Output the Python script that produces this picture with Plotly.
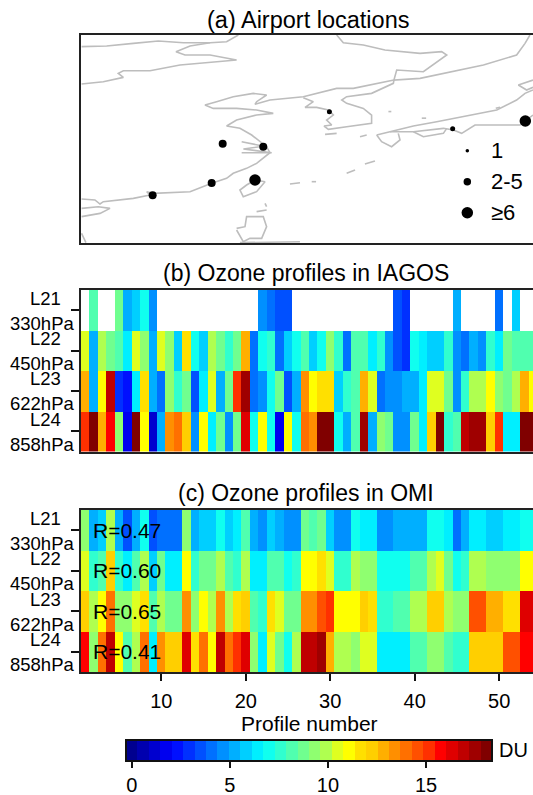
import plotly.graph_objects as go
from plotly.subplots import make_subplots

FONT = "Liberation Sans"
W, H = 533, 795

# jet palette of the colour bar, 32 levels
JET_32 = [
    "#00008F", "#0000AF", "#0000CF", "#0000EF", "#0010FF", "#0030FF", "#0050FF", "#0070FF",
    "#0090FF", "#00AFFF", "#00CFFF", "#00EFFF", "#10FFEF", "#30FFCF", "#50FFAF", "#70FF8F",
    "#8FFF70", "#AFFF50", "#DFFF20", "#FFFF00", "#FFE000", "#FFCF00", "#FFAF00", "#FF8F00",
    "#FF7000", "#FF5000", "#FF3000", "#FF0000", "#DF0000", "#BF0000", "#9F0000", "#800000",
]
DU_MIN, DU_MAX = -0.29, 18.36
DU_TICKS = [0, 5, 10, 15]

# row labels
LAYERS = ["L21", "L22", "L23", "L24"]
PRESSURES = ["330hPa", "450hPa", "622hPa", "858hPa"]
PROFILE_NO = list(range(1, 55))
PROFILE_TICKS = [10, 20, 30, 40, 50]
R_VALUES = ["R=0.47", "R=0.60", "R=0.65", "R=0.41"]

# (b) IAGOS, DU per profile
IAGOS_L21 = [None, 8.2, None, None, 8.7, 5.2, 5.8, 7.0, 4.7, None,
             None, None, None, None, None, None, None, None, None, None,
             None, 4.7, 4.1, 3.5, 3.5, None, None, None, None, None,
             None, None, None, None, None, None, None, 3.5, 2.9, None,
             None, None, None, None, 5.2, None, None, None, None, 4.1,
             None, 5.8, None, None]
IAGOS_L22 = [10.5, 5.2, 9.9, 8.7, 8.2, 6.4, 10.5, 9.3, 5.2, 10.5,
             9.3, 5.8, 11.7, 7.0, 5.8, 9.9, 8.7, 7.6, 8.7, 12.8,
             4.1, 7.0, 7.6, 4.1, 5.8, 7.0, 8.2, 5.8, 7.0, 9.3,
             7.6, 4.1, 8.2, 8.2, 6.4, 7.6, 4.7, 3.5, 2.9, 7.0,
             6.4, 5.8, 5.8, 7.6, 4.7, 4.1, 5.2, 4.7, 7.6, 6.4,
             8.7, 8.2, 8.2, 8.2]
IAGOS_L23 = [12.8, 5.2, 11.1, 16.9, 2.9, 2.3, 6.4, 11.7, 5.2, 4.1,
             9.3, 7.6, 8.7, 3.5, 6.4, 10.5, 5.2, 8.7, 15.2, 17.5,
             4.1, 4.7, 7.0, 8.7, 3.5, 5.2, 13.4, 11.1, 11.7, 11.7,
             5.8, 7.6, 8.2, 12.8, 10.5, 4.1, 4.7, 4.7, 5.2, 5.2,
             6.4, 10.5, 10.5, 8.7, 4.7, 7.6, 9.9, 9.9, 11.1, 9.3,
             8.7, 9.9, 12.8, 11.1]
IAGOS_L24 = [15.2, 18.1, 12.8, 15.7, 9.3, 1.7, 18.1, 11.1, 1.2, 5.2,
             13.4, 14.0, 12.2, 4.7, 11.1, 6.4, 8.7, 4.7, 8.7, 16.3,
             7.0, 11.1, 7.0, 1.7, 11.1, 7.0, 14.0, 13.4, 18.1, 18.1,
             7.0, 5.2, 8.2, 17.5, 5.2, 9.3, 8.7, 4.7, 4.7, 8.7,
             6.4, 12.2, 18.1, 7.6, 8.2, 16.9, 17.5, 17.5, 12.2, 15.2,
             6.4, 6.4, 18.1, 18.1]

# (c) OMI, DU per profile
OMI_L21 = [9.3, 5.2, 5.8, 9.9, 5.2, 3.5, 5.2, 7.0, 3.5, 4.1,
           4.1, 4.1, 9.3, 5.2, 5.8, 5.8, 7.0, 5.8, 6.4, 8.2,
           5.2, 4.7, 5.8, 5.2, 4.7, 4.7, 8.7, 8.2, 8.7, 5.8,
           4.7, 4.7, 7.0, 6.4, 6.4, 4.7, 4.7, 5.2, 5.2, 5.2,
           5.2, 7.0, 7.0, 6.4, 4.1, 5.2, 6.4, 6.4, 5.8, 5.8,
           6.4, 6.4, 7.0, 7.0]
OMI_L22 = [10.5, 7.6, 8.2, 12.2, 7.6, 6.4, 8.2, 9.9, 5.8, 8.7,
           6.4, 6.4, 11.1, 7.6, 8.7, 8.7, 9.9, 8.2, 7.6, 9.9,
           6.4, 6.4, 8.2, 8.2, 7.0, 7.6, 11.1, 11.1, 11.7, 10.5,
           7.6, 7.6, 9.9, 9.3, 9.3, 7.0, 7.0, 7.0, 7.0, 8.2,
           8.2, 9.9, 10.5, 8.7, 7.0, 7.6, 9.9, 9.9, 9.3, 9.3,
           9.3, 9.3, 11.1, 11.1]
OMI_L23 = [12.2, 9.9, 11.1, 14.0, 9.3, 9.3, 10.5, 11.7, 8.2, 9.9,
           8.7, 8.7, 13.4, 9.3, 11.1, 9.9, 13.4, 9.9, 11.7, 12.2,
           8.2, 7.6, 11.7, 10.5, 8.7, 8.7, 13.4, 13.4, 14.6, 15.2,
           11.1, 11.1, 11.1, 12.2, 11.7, 7.6, 7.6, 8.2, 8.2, 9.9,
           9.9, 12.2, 12.2, 9.9, 9.3, 9.3, 14.6, 14.6, 12.8, 12.8,
           11.7, 11.7, 16.3, 16.3]
OMI_L24 = [15.7, 9.3, 14.0, 16.9, 11.1, 8.2, 9.9, 14.0, 6.4, 13.4,
           12.2, 12.2, 16.3, 11.7, 14.0, 11.1, 16.9, 14.0, 15.2, 16.3,
           9.3, 6.4, 10.5, 8.7, 7.0, 9.9, 16.9, 16.9, 17.5, 12.8,
           9.9, 9.9, 9.3, 10.5, 10.5, 6.4, 6.4, 6.4, 6.4, 8.2,
           8.2, 9.3, 9.3, 8.2, 7.6, 7.6, 12.2, 12.2, 12.2, 12.2,
           14.6, 14.6, 15.7, 15.7]

# (a) airports
AIRPORT_LON = [126.53, 135.03, 119.17, 121.97, 118.41, 114.34, 121.40, 140.04]
AIRPORT_LAT = [37.38, 34.29, 31.56, 31.00, 24.41, 22.16, 24.95, 35.68]
AIRPORT_SIZE = [5, 5, 8, 8, 8, 8, 11.5, 11.5]

KEY_LON = [136.04, 136.04, 136.04]
KEY_LAT = [30.29, 24.65, 19.01]
KEY_SIZE = [3.5, 7.5, 11.5]
KEY_TEXT = ["1", "2-5", "≥6"]

# coastlines and borders
BORDER_N_LON = [109.44, 111.17, 113.01, 114.73, 116.46, 118.30, 119.44, 120.25]
BORDER_N_LAT = [49.20, 49.32, 49.80, 50.23, 49.92, 49.92, 50.10, 51.32]
BORDER_W_LON = [109.44, 110.94, 112.32, 111.97, 112.32, 114.16, 116.23, 117.84, 120.13, 118.30, 116.57, 115.95, 116.92, 118.30]
BORDER_W_LAT = [42.41, 42.83, 43.62, 44.35, 44.83, 44.83, 45.86, 46.29, 46.77, 47.68, 47.68, 48.29, 49.32, 49.92]
BORDER_E_LON = [127.03, 127.49, 128.87, 130.36, 132.78, 134.27, 134.62, 133.70, 133.01, 131.17, 130.98, 132.78, 134.85, 137.15, 139.44, 140.02, 140.36]
BORDER_E_LAT = [51.32, 49.92, 49.50, 48.59, 47.98, 48.29, 47.68, 45.86, 44.65, 44.95, 43.13, 43.44, 44.65, 45.86, 47.68, 49.80, 51.32]
CHINA_LON = [130.98, 129.44, 128.18, 127.03, 124.73, 122.43, 121.40, 121.51, 122.20, 121.28, 119.90, 118.75, 117.95, 118.52, 120.13, 121.51, 122.66, 121.51, 120.13, 119.44, 120.36, 121.17, 121.74, 122.20, 122.43, 121.97, 121.51, 120.82, 119.90, 119.44, 118.41, 116.92, 114.39, 113.93, 114.16, 113.01, 110.94, 110.71, 110.36, 109.44]
CHINA_LAT = [43.13, 42.23, 41.62, 41.62, 40.10, 39.50, 38.71, 39.19, 40.41, 40.71, 40.10, 39.19, 38.59, 37.98, 37.98, 37.68, 37.07, 36.77, 35.86, 34.77, 34.35, 33.13, 31.92, 31.01, 29.92, 28.89, 27.98, 27.07, 26.17, 25.26, 24.35, 22.83, 22.53, 22.83, 22.23, 21.62, 21.01, 20.59, 21.32, 21.50]
YANGTZE_LON = [120.48, 122.00, 120.60, 122.55, 120.48]
YANGTZE_LAT = [31.92, 31.10, 30.60, 29.92, 29.92]
KOREA_LON = [124.73, 125.42, 124.85, 125.65, 126.46, 126.80, 126.34, 126.69, 126.16, 126.46, 127.72, 129.44, 129.44, 128.87, 127.72, 127.38, 127.72, 129.44, 130.94, 130.98]
KOREA_LAT = [39.92, 39.19, 38.16, 38.16, 37.68, 36.77, 35.86, 34.95, 34.77, 34.16, 34.65, 35.26, 36.77, 37.98, 38.89, 39.50, 40.10, 40.71, 42.53, 43.13]
HONSHU_N_LON = [129.79, 130.71, 132.32, 133.93, 136.23, 138.07, 139.44, 140.02, 140.57]
HONSHU_N_LAT = [33.13, 33.74, 34.77, 35.56, 36.77, 37.68, 39.50, 40.71, 41.32]
HONSHU_S_LON = [140.57, 139.67, 138.30, 136.57, 135.65, 135.08, 134.39, 132.32, 131.40, 130.71]
HONSHU_S_LAT = [36.77, 34.95, 34.95, 34.95, 33.44, 34.04, 34.35, 33.74, 33.74, 33.74]
KYUSHU_LON = [129.79, 130.13, 130.82, 131.40, 131.28]
KYUSHU_LAT = [33.13, 31.92, 31.01, 32.23, 33.44]
SHIKOKU_LON = [132.32, 133.01, 134.39, 134.62]
SHIKOKU_LAT = [33.74, 32.83, 33.44, 34.35]
HOKKAIDO_LON = [140.57, 139.56, 140.13, 140.57]
HOKKAIDO_LAT = [43.13, 42.23, 41.32, 41.80]
TAIWAN_LON = [121.40, 122.09, 121.51, 120.59, 120.36, 120.82, 121.40]
TAIWAN_LAT = [24.95, 24.65, 22.83, 21.92, 23.13, 24.04, 24.95]
HAINAN_LON = [109.44, 110.71, 111.40, 110.59, 109.44]
HAINAN_LAT = [18.29, 18.89, 19.80, 20.10, 19.80]
LUZON_LON = [120.13, 120.71, 120.82, 121.97, 122.20, 121.86, 121.05, 120.59, 120.13]
LUZON_LAT = [16.16, 16.47, 18.29, 18.29, 16.47, 14.35, 14.35, 13.74, 15.86]
SOUTH_LON = [120.36, 124.50, None, 109.44, 109.74]
SOUTH_LAT = [13.56, 13.74, None, 15.26, 13.56]
ISLES_LON = [126.23, 127.03, None, 127.72, 128.30, None, 128.98, 129.67, None, 123.81, 124.50, None, 125.31, 125.61, None, 128.64, 129.10, None, 122.09, 122.20, None, 121.51, 122.20, None, 138.00, 138.30, None, 130.60, 130.80, None, 132.90, 133.20]
ISLES_LAT = [33.26, 33.44, None, 26.17, 26.77, None, 27.86, 28.41, None, 24.23, 24.47, None, 24.65, 24.65, None, 32.83, 33.13, None, 20.71, 20.10, None, 19.20, 19.50, None, 38.00, 38.20, None, 37.40, 37.40, None, 36.20, 36.20]

COAST_LINES = [
    (BORDER_N_LON, BORDER_N_LAT), (BORDER_W_LON, BORDER_W_LAT), (BORDER_E_LON, BORDER_E_LAT),
    (CHINA_LON, CHINA_LAT), (YANGTZE_LON, YANGTZE_LAT), (KOREA_LON, KOREA_LAT),
    (HONSHU_N_LON, HONSHU_N_LAT), (HONSHU_S_LON, HONSHU_S_LAT), (KYUSHU_LON, KYUSHU_LAT),
    (SHIKOKU_LON, SHIKOKU_LAT), (HOKKAIDO_LON, HOKKAIDO_LAT), (TAIWAN_LON, TAIWAN_LAT),
    (HAINAN_LON, HAINAN_LAT), (LUZON_LON, LUZON_LAT), (SOUTH_LON, SOUTH_LAT), (ISLES_LON, ISLES_LAT),
]


def ydom(top, bottom):
    return [1 - bottom / H, 1 - top / H]


def stepped(colors):
    n = len(colors)
    out = []
    for i, c in enumerate(colors):
        out += [(i / n, c), ((i + 1) / n, c)]
    return out


fig = make_subplots(rows=3, cols=1)

# map panel
for lon, lat in COAST_LINES:
    fig.add_trace(
        go.Scatter(x=lon, y=lat, mode="lines", line=dict(color="#bdbdbd", width=1.6),
                   showlegend=False, hoverinfo="skip"),
        row=1, col=1,
    )
fig.add_trace(
    go.Scatter(x=AIRPORT_LON, y=AIRPORT_LAT, mode="markers",
               marker=dict(color="black", size=AIRPORT_SIZE, opacity=1, line=dict(width=0)), showlegend=False),
    row=1, col=1,
)
fig.add_trace(
    go.Scatter(x=KEY_LON, y=KEY_LAT, mode="markers",
               marker=dict(color="black", size=KEY_SIZE, opacity=1, line=dict(width=0)), showlegend=False),
    row=1, col=1,
)

# heatmaps, only the first one carries the colour bar
colorscale = stepped(JET_32)
fig.add_trace(
    go.Heatmap(z=[IAGOS_L21, IAGOS_L22, IAGOS_L23, IAGOS_L24], x=PROFILE_NO, y=[1, 2, 3, 4],
               zmin=DU_MIN, zmax=DU_MAX, colorscale=colorscale, hoverongaps=False,
               colorbar=dict(
                   orientation="h", x=126 / W, xanchor="left", y=1 - 740 / H, yanchor="top",
                   lenmode="pixels", len=365.5, thicknessmode="pixels", thickness=21,
                   xpad=0, ypad=0, outlinewidth=2, outlinecolor="#111",
                   tickvals=DU_TICKS, ticks="outside", ticklen=6, tickwidth=1.5, tickcolor="#111",
                   tickfont=dict(family=FONT, size=20, color="black"),
               )),
    row=2, col=1,
)
fig.add_trace(
    go.Heatmap(z=[OMI_L21, OMI_L22, OMI_L23, OMI_L24], x=PROFILE_NO, y=[1, 2, 3, 4],
               zmin=DU_MIN, zmax=DU_MAX, colorscale=colorscale, showscale=False),
    row=3, col=1,
)

frame = dict(showline=True, linecolor="#222", linewidth=2, showgrid=False, zeroline=False)
x_dom = [81 / W, 1]

fig.update_xaxes(frame, mirror=True, domain=x_dom, range=[109.40, 140.57], showticklabels=False, ticks="", row=1, col=1)
fig.update_yaxes(frame, domain=ydom(35, 243), range=[13.5, 51.32], showticklabels=False, ticks="", row=1, col=1)

fig.update_xaxes(frame, mirror=True, domain=x_dom, range=[0.5, 54.0], showticklabels=False, ticks="", row=2, col=1)
fig.update_xaxes(frame, mirror=True, domain=x_dom, range=[0.5, 54.0], tickvals=PROFILE_TICKS, ticks="outside",
                 ticklen=7, tickwidth=1.5, tickcolor="#111", ticklabelstandoff=3,
                 tickfont=dict(family=FONT, size=20, color="black"), row=3, col=1)
for row, dom in ((2, ydom(290, 451.5)), (3, ydom(510, 672))):
    fig.update_yaxes(frame, domain=dom, range=[4.5, 0.5], tickvals=[1, 2, 3, 4], ticktext=[""] * 4,
                     ticks="outside", ticklen=8, tickwidth=1.5, tickcolor="#111", row=row, col=1)

notes = []


def note(text, x, y, size, xref="paper", yref="paper", xanchor="center", **kw):
    notes.append(dict(text=text, x=x, y=y, xref=xref, yref=yref, xanchor=xanchor, yanchor="middle",
                      showarrow=False, font=dict(family=FONT, size=size, color="black"), **kw))


note("(a) Airport locations", 308 / W, 1 - 20 / H, 23.5)
note("(b) Ozone profiles in IAGOS", 306 / W, 1 - 273 / H, 23)
note("(c) Ozone profiles in OMI", 306 / W, 1 - 493 / H, 23)
note("Profile number", 309 / W, 1 - 723 / H, 21)
note("DU", 513 / W, 1 - 750 / H, 20)

for yref in ("y2", "y3"):
    for i, (layer, press) in enumerate(zip(LAYERS, PRESSURES)):
        note(layer, 63 / W, i + 1, 18.5, yref=yref, xanchor="right", yshift=12)
        note(press, 76 / W, i + 1, 18.5, yref=yref, xanchor="right", yshift=-13)

for i, text in enumerate(R_VALUES):
    note(text, 1.7, i + 1, 21, xref="x3", yref="y3", xanchor="left")

for lon, lat, text in zip(KEY_LON, KEY_LAT, KEY_TEXT):
    note(text, lon, lat, 22, xref="x", yref="y", xanchor="left", xshift=22)

fig.update_layout(
    width=W, height=H, autosize=False,
    margin=dict(l=0, r=0, t=0, b=0, pad=0, autoexpand=False),
    paper_bgcolor="white", plot_bgcolor="white",
    annotations=notes,
    font=dict(family=FONT),
)

fig.write_html("out.html", config={"displayModeBar": False}, post_script="document.body.style.margin='0';")
